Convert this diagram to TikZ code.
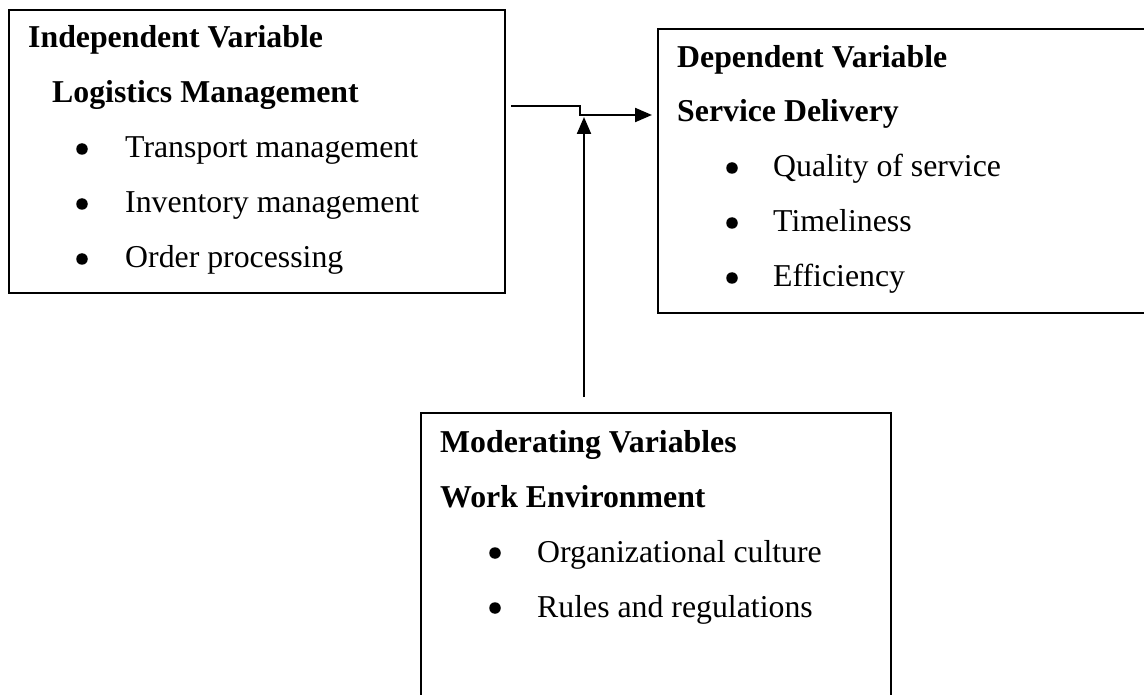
\documentclass[tikz,border=0pt]{standalone}
\usepackage{fontspec}
\setmainfont{Liberation Serif}
\usetikzlibrary{arrows.meta}

\begin{document}
\begin{tikzpicture}[x=1pt,y=-1pt,
  box/.style={draw,line width=2pt,anchor=north west,inner sep=0pt},
  head/.style={anchor=base west,inner sep=0pt,font=\fontsize{31.8}{38}\selectfont\bfseries},
  entry/.style={anchor=base west,inner sep=0pt,font=\fontsize{31.8}{38}\selectfont},
  dot/.style={circle,fill,inner sep=0pt,minimum size=11.5pt},
  wire/.style={line width=2.2pt,-{Triangle[length=17pt,width=14pt]}}]
\useasboundingbox (0,0) rectangle (1144,695);
% the three variable boxes
\node[box,minimum width=496pt,minimum height=283pt] (indep) at (8,9) {};
\node[box,minimum width=600pt,minimum height=284pt] (dep) at (657,28) {};
\node[box,minimum width=470pt,minimum height=320pt] (moder) at (420,412) {};
% independent variable
\node[head] (indhead) at (28,48) {Independent Variable};
\node[head] (indname) at (52,103) {Logistics Management};
\node[dot] (inddot1) at (82,149) {}; \node[entry] (inditem1) at (125,158) {Transport management};
\node[dot] (inddot2) at (82,204) {}; \node[entry] (inditem2) at (125,213) {Inventory management};
\node[dot] (inddot3) at (82,259) {}; \node[entry] (inditem3) at (125,268) {Order processing};
% dependent variable
\node[head] (dephead) at (677,68) {Dependent Variable};
\node[head] (depname) at (677,122) {Service Delivery};
\node[dot] (depdot1) at (732,168) {}; \node[entry] (depitem1) at (773,177) {Quality of service};
\node[dot] (depdot2) at (732,223) {}; \node[entry] (depitem2) at (773,232) {Timeliness};
\node[dot] (depdot3) at (732,278) {}; \node[entry] (depitem3) at (773,287) {Efficiency};
% moderating variables
\node[head] (modhead) at (440,452) {Moderating Variables};
\node[head] (modname) at (440,507) {Work Environment};
\node[dot] (moddot1) at (495,553) {}; \node[entry] (moditem1) at (537,562) {Organizational culture};
\node[dot] (moddot2) at (495,608) {}; \node[entry] (moditem2) at (537,617) {Rules and regulations};
% arrows
\coordinate (kink) at (580,106);
\coordinate (join) at (584,117);
\draw[wire] ([xshift=5pt]indep.east |- kink) -- (kink) |- ([xshift=-5pt]dep.west |- 0,115);
\draw[wire] ([yshift=15pt]moder.north -| join) -- (join);
\end{tikzpicture}
\end{document}
